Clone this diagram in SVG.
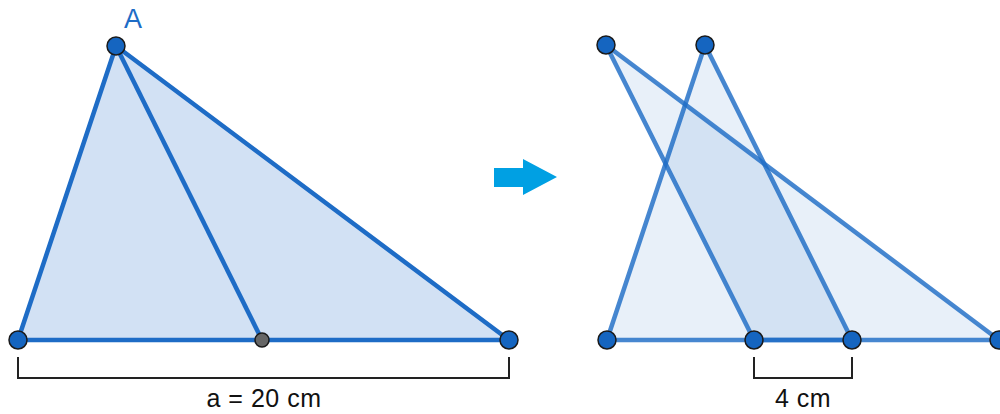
<svg xmlns="http://www.w3.org/2000/svg" width="1000" height="414" viewBox="0 0 1000 414">
<style>
.edge{stroke:#1e6cc6;stroke-width:4.5;stroke-linejoin:round;fill:none}
.tri{fill:#d2e1f4;stroke:#1e6cc6;stroke-width:4.5;stroke-linejoin:round}
.tri2{fill:#1e6ec8;fill-opacity:0.1;stroke:#1e6cc6;stroke-opacity:0.82;stroke-width:4.5;stroke-linejoin:round}
.pt{fill:#1565c0;stroke:#1a1a1a;stroke-width:1.5}
.mid{fill:#666;stroke:#1a1a1a;stroke-width:1.5}
.br{stroke:#222;stroke-width:2;fill:none}
.lbl{font-family:"Liberation Sans",Arial,sans-serif;font-size:25px;fill:#111;text-anchor:middle;letter-spacing:0.5px}
</style>
<g id="left-triangle">
<polygon class="tri" points="116,46 18,340 509,340"/>
<line class="edge" x1="116" y1="46" x2="262" y2="340"/>
<text x="133" y="28" style="font-family:'Liberation Sans',Arial,sans-serif;font-size:27px;fill:#1e6cc6" text-anchor="middle">A</text>
<circle class="pt" cx="116" cy="46" r="9"/>
<circle class="pt" cx="18" cy="340" r="9"/>
<circle class="pt" cx="509" cy="340" r="9"/>
<circle class="mid" cx="262" cy="340" r="7"/>
</g>
<g id="left-dimension">
<polyline class="br" points="18,357 18,378 509,378 509,357"/>
<text class="lbl" x="264" y="407">a = 20 cm</text>
</g>
<g id="arrow">
<polygon fill="#00a0e3" points="494,168 523,168 523,159 557,177 523,195 523,187 494,187"/>
</g>
<g id="right-triangles">
<polygon class="tri2" points="705,45 607,340 852,340"/>
<polygon class="tri2" points="606,45 754,340 999,340"/>
<circle class="pt" cx="606" cy="45" r="9"/>
<circle class="pt" cx="705" cy="45" r="9"/>
<circle class="pt" cx="607" cy="340" r="9"/>
<circle class="pt" cx="754" cy="340" r="9"/>
<circle class="pt" cx="852" cy="340" r="9"/>
<circle class="pt" cx="999" cy="340" r="9"/>
</g>
<g id="right-dimension">
<polyline class="br" points="754,357 754,378 852,378 852,357"/>
<text class="lbl" x="803" y="407">4 cm</text>
</g>
</svg>
